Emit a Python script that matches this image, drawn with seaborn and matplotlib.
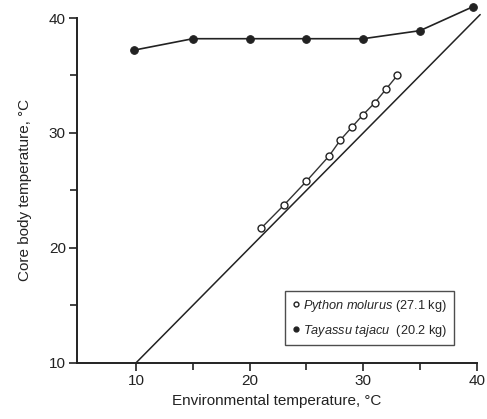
import matplotlib
matplotlib.use("Agg")
import matplotlib.pyplot as plt
import seaborn as sns
import pandas as pd
from matplotlib.lines import Line2D

tayassu_x = [9.8, 15, 20, 25, 30, 35, 39.7]
tayassu_y = [37.2, 38.2, 38.2, 38.2, 38.2, 38.9, 41.0]
python_x = [21, 23, 25, 27, 28, 29, 30, 31, 32, 33]
python_y = [21.7, 23.7, 25.8, 28.0, 29.4, 30.5, 31.6, 32.6, 33.8, 35.0]
iso_x = [10, 40.3]
iso_y = [10, 40.3]

sns.set_style("ticks")
plt.rcParams['font.family'] = ['Liberation Sans', 'DejaVu Sans']
plt.rcParams['mathtext.fontset'] = 'custom'
plt.rcParams['mathtext.it'] = 'Liberation Sans:italic'
plt.rcParams['mathtext.rm'] = 'Liberation Sans'

fig = plt.figure(figsize=(4.87, 4.19), dpi=100)
ax = fig.add_axes([0.158, 0.134, 0.821, 0.823])

sns.lineplot(x=iso_x, y=iso_y, ax=ax, color='#222222', lw=1.1, clip_on=False)
sns.lineplot(x=python_x, y=python_y, ax=ax, color='#333333', lw=1.0,
             marker='o', markersize=5, markerfacecolor='white',
             markeredgecolor='#222222', markeredgewidth=1.0, clip_on=False)
sns.lineplot(x=tayassu_x, y=tayassu_y, ax=ax, color='#222222', lw=1.2,
             marker='o', markersize=5.5, markerfacecolor='#222222',
             markeredgecolor='#222222', clip_on=False)

ax.set_xlim(4.8, 40)
ax.set_ylim(10, 40)
ax.set_xticks([10, 20, 30, 40])
ax.set_xticks([15, 25, 35], minor=True)
ax.set_yticks([10, 20, 30, 40])
ax.set_yticks([15, 25, 35], minor=True)
ax.tick_params(which='major', length=6, width=1.2, labelsize=11, colors='#222222', pad=2)
ax.tick_params(which='minor', length=5, width=1.2, colors='#222222')
sns.despine(ax=ax)
for s in ['left', 'bottom']:
    ax.spines[s].set_linewidth(1.4)
    ax.spines[s].set_color('#222222')

ax.set_xlabel('Environmental temperature, °C', fontsize=11, color='#222222', labelpad=4)
ax.set_ylabel('Core body temperature, °C', fontsize=11, color='#222222', labelpad=12)

handles = [
    Line2D([], [], ls='none', marker='o', markersize=3.5, markerfacecolor='white', markeredgecolor='#222222'),
    Line2D([], [], ls='none', marker='o', markersize=3.5, markerfacecolor='#222222', markeredgecolor='#222222'),
]
labels = [r'$\it{Python\ molurus}$ (27.1 kg)', r'$\it{Tayassu\ tajacu}$  (20.2 kg)']
leg = ax.legend(handles, labels, loc='lower right', bbox_to_anchor=(0.942, 0.052),
                frameon=True, fancybox=False, edgecolor='#222222', fontsize=9.2,
                handletextpad=0.1, handlelength=0.8, borderpad=0.5, labelspacing=0.7,
                borderaxespad=0)
leg.get_frame().set_linewidth(1.0)

fig.savefig('out.png', dpi=100)
